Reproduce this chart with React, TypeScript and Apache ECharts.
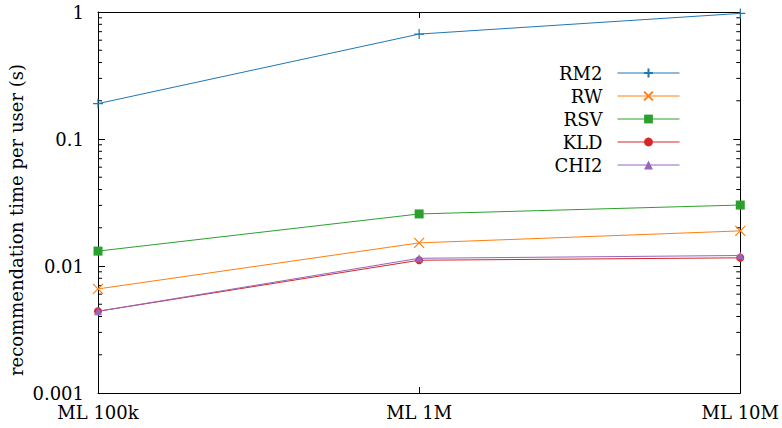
import React, { useEffect, useRef } from "react";
import * as echarts from "echarts";

const categories = ["ML 100k", "ML 1M", "ML 10M"];
const seriesNames = ["RM2", "RW", "RSV", "KLD", "CHI2"];
const rm2 = [0.19, 0.67, 0.975];
const rw = [0.0066, 0.0152, 0.0189];
const rsv = [0.0131, 0.0257, 0.0302];
const kld = [0.0044, 0.0111, 0.0116];
const chi2 = [0.0044, 0.0115, 0.0121];
const colors = ["#1f77b4", "#ff7f0e", "#2ca02c", "#d62728", "#9467bd"];
const yMin = 0.001;
const yMax = 1;
const minorTickValues = [
  0.002, 0.003, 0.004, 0.005, 0.006, 0.007, 0.008, 0.009,
  0.02, 0.03, 0.04, 0.05, 0.06, 0.07, 0.08, 0.09,
  0.2, 0.3, 0.4, 0.5, 0.6, 0.7, 0.8, 0.9,
];

const FONT = "'DejaVu Serif', serif";
const PLUS = "path://M0,5L10,5M5,0L5,10";
const CROSS = "path://M0,0L10,10M10,0L0,10";

export default function App() {
  const ref = useRef<HTMLDivElement>(null);

  useEffect(() => {
    document.body.style.margin = "0";
    if (!ref.current) return;
    const chart = echarts.init(ref.current, undefined, { renderer: "svg" });

    const values = [rm2, rw, rsv, kld, chi2];
    const symbols = [PLUS, CROSS, "rect", "circle", "triangle"];
    const sizes = [10, 10, 9, 8, 8];

    const lineSeries = seriesNames.map((name, i) => ({
      name,
      type: "line",
      data: values[i],
      symbol: symbols[i],
      symbolSize: sizes[i],
      showAllSymbol: true,
      lineStyle: { color: colors[i], width: 1 },
      itemStyle: {
        color: colors[i],
        borderColor: colors[i],
        borderWidth: i < 2 ? 1.2 : 0,
      },
      z: 3 + i,
    }));

    const logAxisBase = {
      type: "log",
      logBase: 10,
      min: yMin,
      max: yMax,
      splitLine: { show: false },
      axisLine: { show: true, lineStyle: { color: "#000", width: 1 } },
      axisTick: { show: true, inside: true, length: 7, lineStyle: { color: "#000" } },
      minorTick: { show: false },
    };

    chart.setOption({
      animation: false,
      grid: { left: 98, right: 40, top: 12, bottom: 35, containLabel: false },
      xAxis: [
        {
          type: "category",
          data: categories,
          boundaryGap: false,
          axisLine: { lineStyle: { color: "#000", width: 1 } },
          axisTick: { inside: true, length: 6, lineStyle: { color: "#000" } },
          axisLabel: { fontFamily: FONT, fontSize: 18, color: "#000", margin: 10 },
          splitLine: { show: false },
        },
        {
          type: "category",
          position: "top",
          data: categories,
          boundaryGap: false,
          axisLine: { lineStyle: { color: "#000", width: 1 } },
          axisTick: { inside: true, length: 6, lineStyle: { color: "#000" } },
          axisLabel: { show: false },
          splitLine: { show: false },
        },
      ],
      yAxis: [
        {
          ...logAxisBase,
          position: "left",
          axisLabel: {
            fontFamily: FONT,
            fontSize: 18,
            color: "#000",
            margin: 14,
            formatter: (v: number) => String(Number(v.toPrecision(3))),
          },
        },
        {
          ...logAxisBase,
          position: "right",
          axisLabel: { show: false },
        },
      ],
      legend: {
        orient: "vertical",
        align: "right",
        right: 102,
        top: 64,
        padding: 0,
        itemGap: 5,
        itemWidth: 62,
        itemHeight: 11,
        data: seriesNames,
        lineStyle: { width: 1 },
        textStyle: { fontFamily: FONT, fontSize: 18, color: "#000", padding: [0, 10, 0, 0] },
      },
      graphic: [
        {
          type: "text",
          x: 16,
          y: 220,
          rotation: Math.PI / 2,
          style: {
            text: "recommendation time per user (s)",
            fontFamily: FONT,
            fontSize: 18,
            fill: "#000",
            align: "center",
            verticalAlign: "middle",
          },
        },
      ],
      series: [
        ...lineSeries,
        {
          name: "minorTicks",
          type: "custom",
          silent: true,
          data: minorTickValues.map((v) => [0, v]),
          renderItem: (params: any, api: any) => {
            const cs = params.coordSys;
            const y = api.coord([0, api.value(1)])[1];
            const style = { stroke: "#000", lineWidth: 1 };
            return {
              type: "group",
              children: [
                { type: "line", shape: { x1: cs.x, y1: y, x2: cs.x + 4, y2: y }, style },
                { type: "line", shape: { x1: cs.x + cs.width - 4, y1: y, x2: cs.x + cs.width, y2: y }, style },
              ],
            };
          },
          z: 2,
        },
      ],
    });

    return () => chart.dispose();
  }, []);

  return <div ref={ref} style={{ width: 782, height: 428 }} />;
}
